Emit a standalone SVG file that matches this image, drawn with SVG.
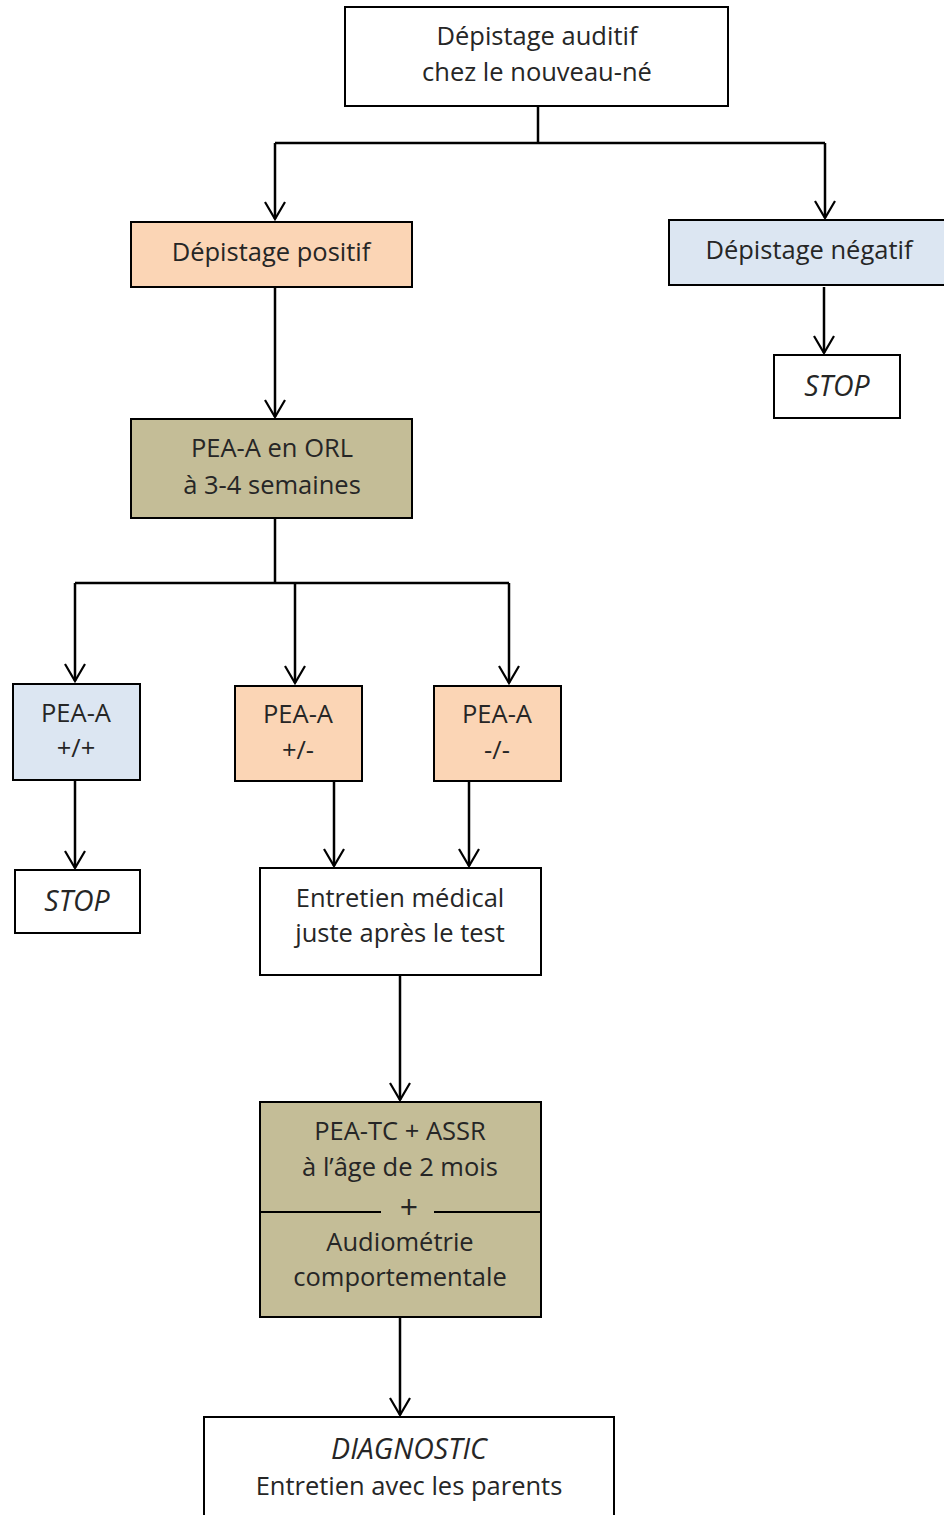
<svg xmlns="http://www.w3.org/2000/svg" width="944" height="1515" viewBox="0 0 944 1515">
<defs>
<marker id="arr" markerUnits="userSpaceOnUse" markerWidth="40" markerHeight="40" refX="0" refY="0" orient="auto" overflow="visible">
<path d="M-17,-10 L0,0 L-17,10" fill="none" stroke="#000" stroke-width="2.2"/>
</marker>
<style>
.box{stroke:#000;stroke-width:2}
.w{fill:#fff}.p{fill:#fbd5b5}.b{fill:#dce6f2}.k{fill:#c4bd97}
text{font-family:"Open Sans","Noto Sans",sans-serif;font-size:25.5px;fill:#262626;text-anchor:middle}
.i{font-style:italic;font-size:28.5px}
.plus{font-size:32px}
.c{fill:none;stroke:#000;stroke-width:2.5}
.a{marker-end:url(#arr)}
</style>
</defs>
<rect width="944" height="1515" fill="#fff"/>
<g id="connectors">
<path class="c" d="M538,106 V143"/>
<path class="c" d="M275,143 H825"/>
<path class="c a" d="M275,143 V219"/>
<path class="c a" d="M825,143 V218"/>
<path class="c a" d="M824,287 V353"/>
<path class="c a" d="M275,287 V417"/>
<path class="c" d="M275,518 V583"/>
<path class="c" d="M75,583 H509"/>
<path class="c a" d="M75,583 V681"/>
<path class="c a" d="M295,583 V683"/>
<path class="c a" d="M509,583 V683"/>
<path class="c a" d="M75,781 V868"/>
<path class="c a" d="M334,781 V866"/>
<path class="c a" d="M469,781 V866"/>
<path class="c a" d="M400,975 V1100"/>
<path class="c a" d="M400,1317 V1415"/>
</g>
<g id="n-depistage">
<rect class="box w" x="345" y="7" width="383" height="99"/>
<text x="537" y="45">Dépistage auditif</text>
<text x="537" y="81">chez le nouveau-né</text>
</g>
<g id="n-positif">
<rect class="box p" x="131" y="222" width="281" height="65"/>
<text x="271" y="261">Dépistage positif</text>
</g>
<g id="n-negatif">
<rect class="box b" x="669" y="220" width="285" height="65"/>
<text x="809" y="259">Dépistage négatif</text>
</g>
<g id="n-stop1">
<rect class="box w" x="774" y="355" width="126" height="63"/>
<text class="i" x="837" y="396">STOP</text>
</g>
<g id="n-orl">
<rect class="box k" x="131" y="419" width="281" height="99"/>
<text x="272" y="457">PEA-A en ORL</text>
<text x="272" y="494">à 3-4 semaines</text>
</g>
<g id="n-pp">
<rect class="box b" x="13" y="684" width="127" height="96"/>
<text x="76" y="722">PEA-A</text>
<text x="76" y="757">+/+</text>
</g>
<g id="n-pm">
<rect class="box p" x="235" y="686" width="127" height="95"/>
<text x="298" y="723">PEA-A</text>
<text x="298" y="759">+/-</text>
</g>
<g id="n-mm">
<rect class="box p" x="434" y="686" width="127" height="95"/>
<text x="497" y="723">PEA-A</text>
<text x="497" y="759">-/-</text>
</g>
<g id="n-stop2">
<rect class="box w" x="15" y="870" width="125" height="63"/>
<text class="i" x="77" y="911">STOP</text>
</g>
<g id="n-entretien">
<rect class="box w" x="260" y="868" width="281" height="107"/>
<text x="400" y="907">Entretien médical</text>
<text x="400" y="942">juste après le test</text>
</g>
<g id="n-peatc">
<rect class="box k" x="260" y="1102" width="281" height="215"/>
<path d="M260,1212 H381 M434,1212 H541" stroke="#000" stroke-width="2"/>
<text x="400" y="1140">PEA-TC + ASSR</text>
<text x="400" y="1176">à l’âge de 2 mois</text>
<text class="plus" x="409" y="1219">+</text>
<text x="400" y="1251">Audiométrie</text>
<text x="400" y="1286">comportementale</text>
</g>
<g id="n-diagnostic">
<path class="box w" d="M204,1520 V1417 H614 V1520"/>
<text class="i" x="409" y="1459">DIAGNOSTIC</text>
<text x="409" y="1495">Entretien avec les parents</text>
</g>
</svg>
